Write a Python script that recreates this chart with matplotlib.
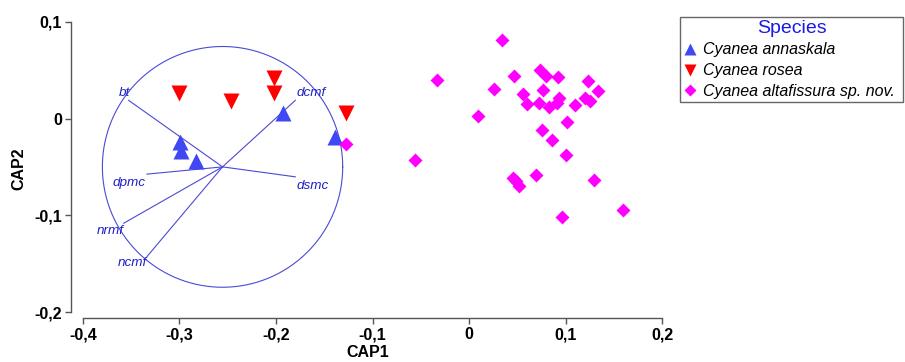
import matplotlib
matplotlib.use("Agg")
import matplotlib.pyplot as plt
import numpy as np

plt.rcParams['font.family'] = ['Liberation Sans', 'DejaVu Sans']

# --- data ---
annaskala_x = [-0.299, -0.298, -0.283, -0.193, -0.139]
annaskala_y = [-0.024, -0.033, -0.044, 0.006, -0.019]

rosea_x = [-0.300, -0.247, -0.202, -0.202, -0.128]
rosea_y = [0.027, 0.018, 0.042, 0.027, 0.006]

altafissura_x = [-0.128, -0.056, -0.033, 0.034, 0.047, 0.026, 0.009, 0.0735,
                 0.080, 0.0925, 0.077, 0.056, 0.060, 0.072, 0.083, 0.091,
                 0.0935, 0.110, 0.120, 0.125, 0.1235, 0.134, 0.101, 0.0756,
                 0.0856, 0.100, 0.046, 0.052, 0.049, 0.069, 0.129, 0.096, 0.159]
altafissura_y = [-0.0265, -0.043, 0.0395, 0.0814, 0.044, 0.031, 0.003, 0.050,
                 0.0445, 0.043, 0.030, 0.025, 0.015, 0.016, 0.012, 0.016,
                 0.021, 0.014, 0.021, 0.018, 0.039, 0.029, -0.003, -0.012,
                 -0.0217, -0.038, -0.061, -0.070, -0.065, -0.058, -0.063, -0.102, -0.095]

species = ["Cyanea annaskala", "Cyanea rosea", "Cyanea altafissura sp. nov."]

# vector overlay (correlation circle)
circle_cx, circle_cy, circle_r = -0.2554, -0.0499, 0.1245
vec_names = ["bt", "dcmf", "dpmc", "dsmc", "nrmf", "ncmf"]
vec_x = [-0.3527, -0.180, -0.3337, -0.180, -0.3578, -0.3337]
vec_y = [0.0189, 0.0189, -0.0574, -0.0602, -0.1082, -0.1427]

xticks = [-0.4, -0.3, -0.2, -0.1, 0.0, 0.1, 0.2]
xticklabels = ["-0,4", "-0,3", "-0,2", "-0,1", "0", "0,1", "0,2"]
yticks = [-0.2, -0.1, 0.0, 0.1]
yticklabels = ["-0,2", "-0,1", "0", "0,1"]

# --- styles ---
BLUE_M = "#3f48f2"
RED_M = "#ff0000"
MAG_M = "#ff00ff"
VEC_C = "#4a4ad6"
LBL_C = "#2020c8"

fig = plt.figure(figsize=(9.05, 3.62), dpi=100)
ax = fig.add_axes([71/905, 1-318/362, (665-71)/905, (318-20)/362])

# circle and vectors
th = np.linspace(0, 2*np.pi, 400)
ax.plot(circle_cx + circle_r*np.cos(th), circle_cy + circle_r*np.sin(th),
        color=VEC_C, lw=0.8, zorder=1)
label_style = {
    "bt": dict(ha="right", va="bottom", off=(1, 1)),
    "dcmf": dict(ha="left", va="bottom", off=(1, 1)),
    "dpmc": dict(ha="right", va="top", off=(-1, -2)),
    "dsmc": dict(ha="left", va="top", off=(1, -2)),
    "nrmf": dict(ha="right", va="top", off=(0, -1)),
    "ncmf": dict(ha="right", va="top", off=(0, 0)),
}
for n, ex, ey in zip(vec_names, vec_x, vec_y):
    ax.plot([circle_cx, ex], [circle_cy, ey], color=VEC_C, lw=0.8, zorder=1)
    st = label_style[n]
    ax.annotate(n, (ex, ey), xytext=st["off"], textcoords="offset points",
                ha=st["ha"], va=st["va"], fontsize=9.7, style="italic",
                color=LBL_C, zorder=2)

h1, = ax.plot(annaskala_x, annaskala_y, linestyle="none", marker="^", ms=11,
              color=BLUE_M, mec="none", zorder=3)
h2, = ax.plot(rosea_x, rosea_y, linestyle="none", marker="v", ms=11,
              color=RED_M, mec="none", zorder=3)
h3, = ax.plot(altafissura_x, altafissura_y, linestyle="none", marker="D", ms=7.6,
              color=MAG_M, mec="none", zorder=3)

ax.set_xlim(-0.4124, 0.203)
ax.set_ylim(-0.2062, 0.102)
for s in ["top", "right"]:
    ax.spines[s].set_visible(False)
ax.spines["left"].set_bounds(-0.2, 0.1)
ax.spines["bottom"].set_bounds(-0.4, 0.2)
for s in ["left", "bottom"]:
    ax.spines[s].set_color("#555555")
    ax.spines[s].set_linewidth(1.0)

ax.set_xticks(xticks)
ax.set_xticklabels(xticklabels, fontweight="bold", fontsize=11.5)
ax.set_yticks(yticks)
ax.set_yticklabels(yticklabels, fontweight="bold", fontsize=11.5)
ax.tick_params(direction="out", length=4.5, width=1.0, color="#555555", pad=2)

ax.set_xlabel("CAP1", fontweight="bold", fontsize=11.5, labelpad=2)
ax.set_ylabel("CAP2", fontweight="bold", fontsize=11.5, labelpad=6)

leg = fig.legend([h1, h2, h3], species, loc="upper left",
                 bbox_to_anchor=(680/905, 1-16.5/362, 223/905, 0.0),
                 mode="expand", borderaxespad=0, fancybox=False, framealpha=1,
                 edgecolor="#666666", title="Species", title_fontsize=14,
                 prop=dict(style="italic", size=11.5), handlelength=0.9,
                 handletextpad=0.35, labelspacing=0.36, borderpad=0.2,
                 markerscale=0.8)
leg.get_title().set_color("#1a1ae6")
leg.get_frame().set_linewidth(1.0)

fig.savefig("out.png", dpi=100)
